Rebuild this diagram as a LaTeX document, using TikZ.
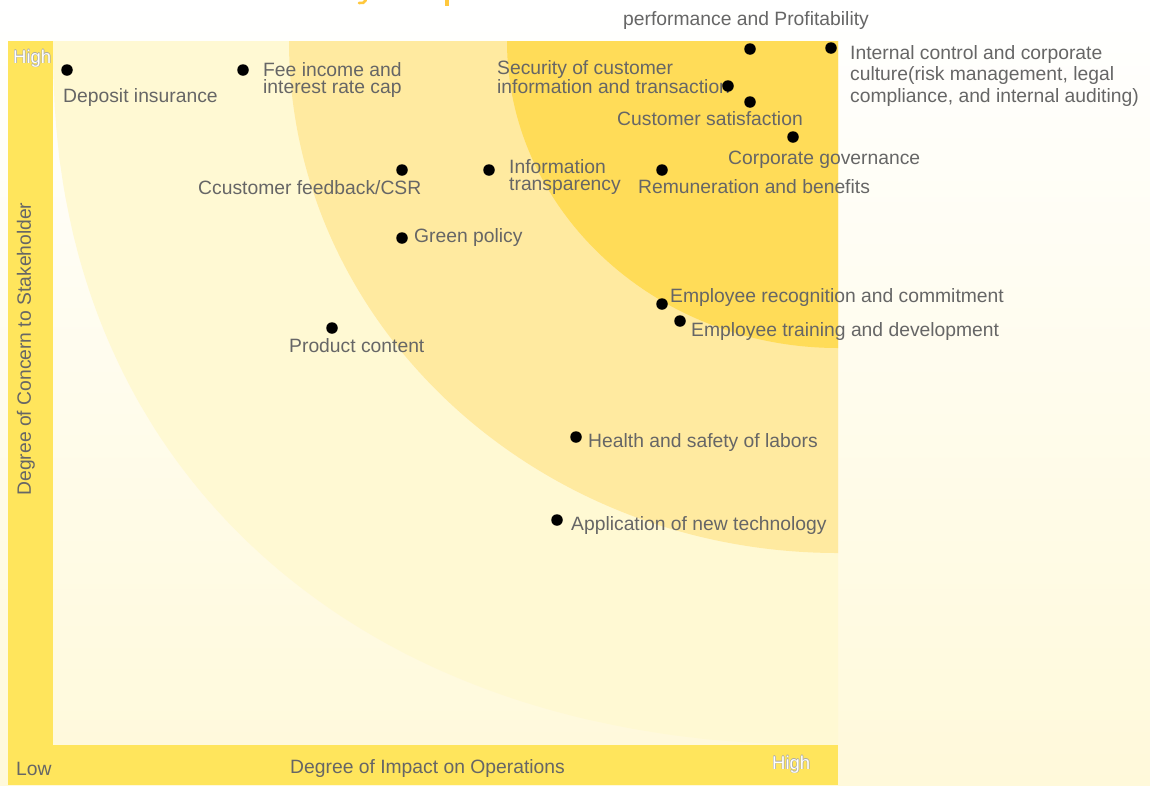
\documentclass[tikz,border=0pt]{standalone}
\usepackage{fontspec}
\setmainfont{Liberation Sans}
\definecolor{barY}{HTML}{FFE55C}
\definecolor{ringD}{HTML}{FFDC58}
\definecolor{ringM}{HTML}{FFEAA0}
\definecolor{ringL}{HTML}{FFF9D3}
\definecolor{bgB}{HTML}{FFF9DA}
\definecolor{txt}{HTML}{666666}
\definecolor{ttl}{HTML}{FFC83D}
\definecolor{olg}{HTML}{A8A8A8}
\newcommand\olt[1]{\leavevmode\rlap{\color{olg}\hspace*{-0.6pt}#1}\rlap{\color{olg}\hspace*{0.6pt}#1}\rlap{\color{olg}\raisebox{0.6pt}{#1}}\rlap{\color{olg}\raisebox{-0.6pt}{#1}}{\color{white}#1}}
\begin{document}
\begin{tikzpicture}[x=1pt,y=-1pt,
  dot/.style={circle,fill=black,inner sep=0pt,minimum size=11.5pt},
  lbl/.style={inner sep=0pt,anchor=base west,text=txt,align=left,font=\fontsize{19.3}{16.5}\selectfont},
  axl/.style={inner sep=0pt,text=txt,font=\fontsize{19.3}{20}\selectfont}]
\useasboundingbox (0,0) rectangle (1150,785);
% background
\shade[top color=white,bottom color=bgB] (0,0) rectangle (1150,785);
% title fragments
\draw[ttl,line width=2.6pt,line cap=round] (366,0) .. controls (365,3) and (362,3.5) .. (359,3);
\fill[ttl] (445,0) rectangle (448.5,5.5);
% rings
\begin{scope}
\clip (53,41) rectangle (838,745);
\fill[ringL] (838,41) -- (53,41) -- plot[domain=0.2:89.8,samples=120,variable=\t] ({838-785*pow(cos(\t),0.9)},{41+704*pow(sin(\t),0.9)}) -- (838,745) -- cycle;
\fill[ringM] (838,41) ellipse [x radius=549pt,y radius=512pt];
\fill[ringD] (838,41) ellipse [x radius=331pt,y radius=307pt];
\end{scope}
% axis bars
\fill[barY] (8,41) rectangle (53,785);
\fill[barY] (53,745) rectangle (838,785);
\node[axl,anchor=base west] (hiy) at (13,63) {\fontsize{18.5}{20}\selectfont\olt{High}};
\node[axl,anchor=base west] (low) at (16,775) {Low};
\node[axl,anchor=base west] (hix) at (772,769) {\fontsize{18.5}{20}\selectfont\olt{High}};
\node[axl,anchor=base west] (xlab) at (290,773) {Degree of Impact on Operations};
\node[axl,rotate=90,anchor=center] (ylab) at (26,349) {Degree of Concern to Stakeholder};
% dots
\node[dot] (d1) at (67,70) {};
\node[dot] (d2) at (243,70) {};
\node[dot] (d3) at (750,49) {};
\node[dot] (d4) at (831,48) {};
\node[dot] (d6) at (750,102) {};
\node[dot] (d7) at (793,137) {};
\node[dot] (d8) at (662,170) {};
\node[dot] (d9) at (402,170) {};
\node[dot] (d10) at (489,170) {};
\node[dot] (d11) at (402,238) {};
\node[dot] (d12) at (662,304) {};
\node[dot] (d13) at (680,321) {};
\node[dot] (d14) at (332,328) {};
\node[dot] (d15) at (576,437) {};
\node[dot] (d16) at (557,520) {};
% labels (multi-line nodes: base = last line)
\node[lbl] (t1) at (63,102) {Deposit insurance};
\node[lbl] (t2) at (263,93) {Fee income and\\interest rate cap};
\node[lbl] (t3) at (623,25) {performance and Profitability};
\node[lbl,font=\fontsize{19.3}{21.5}\selectfont] (t4) at (850,102) {Internal control and corporate\\culture(risk management, legal\\compliance, and internal auditing)};
\node[lbl] (t5) at (497,93) {Security of customer\\information and transaction};
\node[dot] (d5) at (728,86) {};
\node[lbl] (t6) at (617,125) {Customer satisfaction};
\node[lbl] (t7) at (728,164) {Corporate governance};
\node[lbl] (t8) at (638,193) {Remuneration and benefits};
\node[lbl] (t9) at (198,194) {Ccustomer feedback/CSR};
\node[lbl] (t10) at (509,190) {Information\\transparency};
\node[lbl] (t11) at (414,242) {Green policy};
\node[lbl] (t12) at (670,302) {Employee recognition and commitment};
\node[lbl] (t13) at (691,336) {Employee training and development};
\node[lbl] (t14) at (289,352) {Product content};
\node[lbl] (t15) at (588,447) {Health and safety of labors};
\node[lbl] (t16) at (571,530) {Application of new technology};
\end{tikzpicture}
\end{document}
